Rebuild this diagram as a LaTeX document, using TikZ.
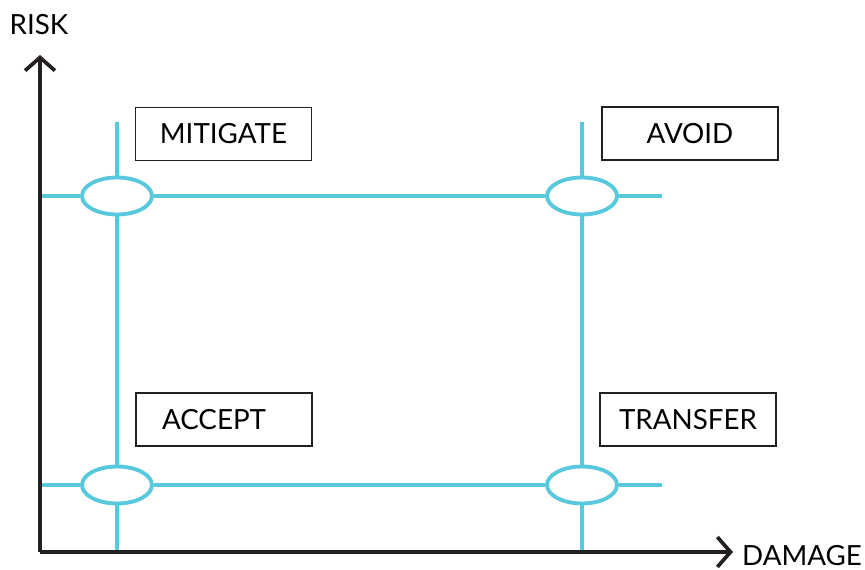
\documentclass[tikz,border=0pt]{standalone}
\usepackage{fontspec}
\setmainfont{Lato}
\usetikzlibrary{arrows.meta}
\usetikzlibrary{shapes.geometric}
\definecolor{skyline}{RGB}{88,200,220}
\definecolor{axisgray}{RGB}{35,31,32}

\begin{document}
\begin{tikzpicture}[x=0.02cm, y=-0.02cm,
    ring/.style={draw=skyline, line width=2.2pt, ellipse, fill=white,
                 minimum width=1.4cm, minimum height=0.74cm, inner sep=0pt},
    grid/.style={draw=skyline, line width=1.8pt},
    tag/.style={draw=axisgray, line width=0.85pt, minimum width=3.52cm,
                minimum height=1.06cm, font=\fontsize{15.8}{18}\selectfont},
    axis/.style={draw=axisgray, line width=2.1pt,
                 -{Straight Barb[length=7.5pt, width=17pt, line width=2.1pt]}}]
      \useasboundingbox (0,0) rectangle (865,570);

      \coordinate (o) at (40,552);
      \coordinate (ytop) at (40,55);
      \coordinate (xend) at (733,552);
      \node[font=\fontsize{15.8}{18}\selectfont] (risk) at (39,25) {RISK};
      \node[font=\fontsize{15.8}{18}\selectfont, anchor=west] (damage) at (736,556) {DAMAGE};

      \node[ring] (hl) at (117,196) {};
      \node[ring] (hr) at (582,196) {};
      \node[ring] (ll) at (117,485) {};
      \node[ring] (lr) at (582,485) {};

      \coordinate (lt) at (117,122);
      \coordinate (rt) at (582,122);
      \coordinate (lb) at (117,552);
      \coordinate (rb) at (582,552);
      \coordinate (hw) at (40,196);
      \coordinate (he) at (662,196);
      \coordinate (lw) at (40,485);
      \coordinate (le) at (662,485);

      \draw[grid] (lt) -- (hl.north);
      \draw[grid] (hl.south) -- (ll.north);
      \draw[grid] (ll.south) -- (lb);
      \draw[grid] (rt) -- (hr.north);
      \draw[grid] (hr.south) -- (lr.north);
      \draw[grid] (lr.south) -- (rb);
      \draw[grid] (hw) -- (hl.west);
      \draw[grid] (hl.east) -- (hr.west);
      \draw[grid] (hr.east) -- (he);
      \draw[grid] (lw) -- (ll.west);
      \draw[grid] (ll.east) -- (lr.west);
      \draw[grid] (lr.east) -- (le);

      \node[tag] (mitigate) at (223.5,134) {MITIGATE};
      \node[tag] (avoid) at (690,133.5) {AVOID};
      \node[tag, inner xsep=0.52cm, text width=2.48cm, align=left] (accept) at (224,419.5) {ACCEPT};
      \node[tag] (transfer) at (688,419.5) {TRANSFER};

      \draw[axis] (o) -- (ytop);
      \draw[axis] (o) -- (xend);
    \end{tikzpicture}
\end{document}
